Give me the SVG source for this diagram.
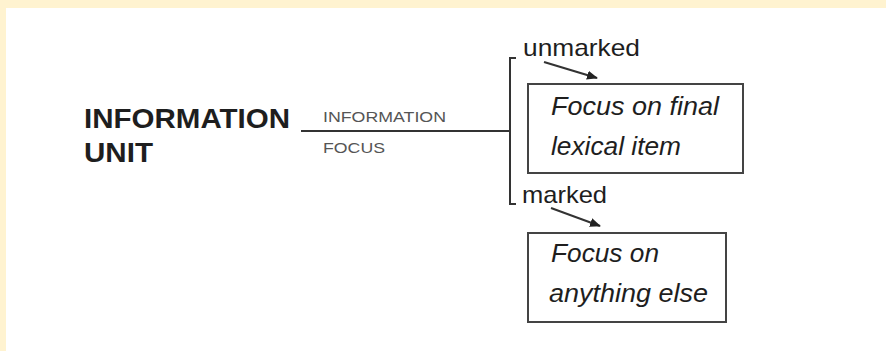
<svg xmlns="http://www.w3.org/2000/svg" width="886" height="351" viewBox="0 0 886 351">
  <defs>
    <marker id="arr" markerWidth="11" markerHeight="9" refX="10" refY="4.5" orient="auto" markerUnits="userSpaceOnUse">
      <path d="M0,0 L11,4.5 L0,9 Z" fill="#222"/>
    </marker>
    <style>
      .t { font-family: "Liberation Sans", Arial, sans-serif; fill: #1e1e1e; }
      .big { font-size: 28px; font-weight: bold; }
      .small { font-size: 15px; fill: #555; }
      .lbl { font-size: 24px; }
      .box { fill: #fff; stroke: #444; stroke-width: 2; }
      .it { font-size: 25px; font-style: italic; }
      .ln { stroke: #333; stroke-width: 2; fill: none; }
    </style>
  </defs>
  <rect x="0" y="0" width="886" height="351" fill="#fff3d0"/>
  <rect x="6" y="8" width="880" height="343" fill="#ffffff"/>

  <g id="info-unit">
    <text class="t big" x="84" y="128" textLength="206" lengthAdjust="spacingAndGlyphs">INFORMATION</text>
    <text class="t big" x="84" y="162" textLength="69" lengthAdjust="spacingAndGlyphs">UNIT</text>
  </g>

  <g id="connectors">
    <line class="ln" x1="301" y1="131" x2="510" y2="131"/>
    <path class="ln" d="M516,58 H510 V204 H516"/>
    <line class="ln" stroke-width="1.3" x1="544" y1="62" x2="597" y2="78" marker-end="url(#arr)"/>
    <line class="ln" stroke-width="1.3" x1="551" y1="208" x2="600" y2="226" marker-end="url(#arr)"/>
    <text class="t small" x="323" y="122" textLength="123" lengthAdjust="spacingAndGlyphs">INFORMATION</text>
    <text class="t small" x="323" y="153" textLength="62" lengthAdjust="spacingAndGlyphs">FOCUS</text>
    <text class="t lbl" x="523" y="56" textLength="117" lengthAdjust="spacingAndGlyphs">unmarked</text>
    <text class="t lbl" x="522" y="203" textLength="85" lengthAdjust="spacingAndGlyphs">marked</text>
  </g>

  <g id="unmarked-box">
    <rect class="box" x="528" y="84" width="215" height="89"/>
    <text class="t it" x="551" y="115" textLength="168" lengthAdjust="spacingAndGlyphs">Focus on final</text>
    <text class="t it" x="551" y="155" textLength="130" lengthAdjust="spacingAndGlyphs">lexical item</text>
  </g>

  <g id="marked-box">
    <rect class="box" x="528" y="233" width="198" height="89"/>
    <text class="t it" x="551" y="262" textLength="108" lengthAdjust="spacingAndGlyphs">Focus on</text>
    <text class="t it" x="549" y="302" textLength="159" lengthAdjust="spacingAndGlyphs">anything else</text>
  </g>
</svg>
